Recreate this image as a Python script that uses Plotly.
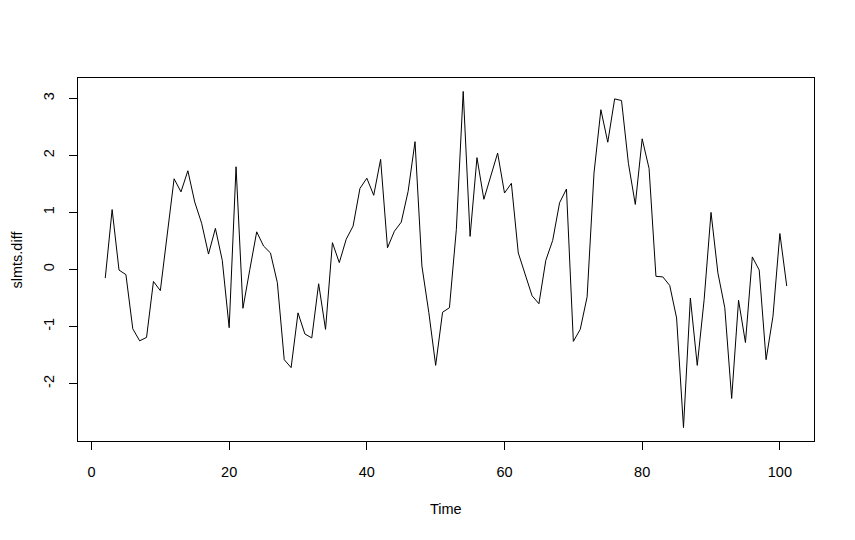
import plotly.graph_objects as go

time = list(range(2, 102))
slmts_diff = [
    -0.15, 1.05, -0.01, -0.09, -1.04, -1.25, -1.19, -0.21, -0.37, 0.58,
    1.59, 1.36, 1.73, 1.18, 0.81, 0.27, 0.72, 0.16, -1.02, 1.80,
    -0.68, 0.00, 0.66, 0.41, 0.29, -0.23, -1.58, -1.72, -0.76, -1.13,
    -1.20, -0.25, -1.05, 0.47, 0.12, 0.53, 0.76, 1.42, 1.60, 1.30,
    1.93, 0.38, 0.67, 0.83, 1.37, 2.24, 0.06, -0.75, -1.68, -0.75,
    -0.67, 0.70, 3.12, 0.58, 1.96, 1.23, 1.63, 2.04, 1.34, 1.51,
    0.29, -0.08, -0.46, -0.60, 0.16, 0.51, 1.17, 1.41, -1.26, -1.05,
    -0.48, 1.69, 2.80, 2.23, 2.99, 2.96, 1.86, 1.14, 2.29, 1.77,
    -0.12, -0.13, -0.28, -0.85, -2.77, -0.50, -1.68, -0.53, 1.00, -0.06,
    -0.67, -2.26, -0.54, -1.28, 0.22, -0.01, -1.58, -0.82, 0.63, -0.29,
]
x_ticks = [0, 20, 40, 60, 80, 100]
y_ticks = [-2, -1, 0, 1, 2, 3]
y_tick_labels = ["-2", "-1", "0", "1", "2", "3"]

def r_range(v):
    lo, hi = min(v), max(v)
    d = (hi - lo) * 0.04
    return [lo - d, hi + d]

FONT = "Liberation Sans, Arial, sans-serif"
FS = 14.5

fig = go.Figure(go.Scatter(x=time, y=slmts_diff, mode="lines",
                           line=dict(color="black", width=1)))

# page body has an 8px default margin, so the figure is 8px smaller
fig.update_layout(
    width=847, height=532,
    margin=dict(l=70, r=41, t=70, b=99),
    paper_bgcolor="white", plot_bgcolor="white",
    showlegend=False,
    font=dict(family=FONT, size=FS, color="black"),
    xaxis=dict(range=r_range(time), tickvals=x_ticks, ticks="outside",
               ticklen=8, tickcolor="black", showgrid=False, zeroline=False,
               showline=True, linecolor="black", linewidth=1, mirror=True,
               ticklabelstandoff=10, tickfont=dict(size=FS, family=FONT)),
    yaxis=dict(range=r_range(slmts_diff), tickvals=y_ticks,
               ticktext=y_tick_labels, ticks="outside",
               ticklen=8, tickcolor="black", showgrid=False, zeroline=False,
               showline=True, linecolor="black", linewidth=1, mirror=True,
               tickangle=-90, ticklabelstandoff=9,
               tickfont=dict(size=FS, family=FONT)),
    annotations=[
        dict(text="Time", x=0.5, y=0, xref="paper", yref="paper",
             xanchor="center", yanchor="middle", yshift=-68, showarrow=False,
             font=dict(size=FS, family=FONT)),
        dict(text="slmts.diff", x=0, y=0.5, xref="paper", yref="paper",
             xanchor="center", yanchor="middle", xshift=-62, textangle=-90,
             showarrow=False, font=dict(size=FS, family=FONT)),
    ],
)

fig.write_html("out.html")
